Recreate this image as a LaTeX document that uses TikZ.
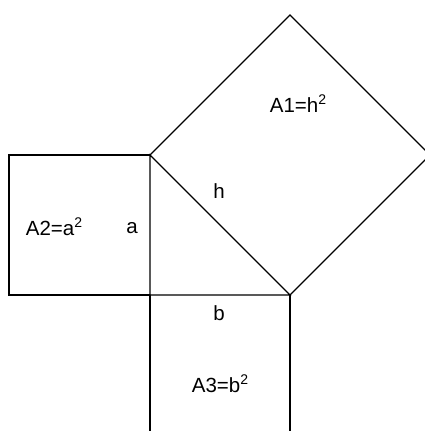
\documentclass[tikz,border=0pt]{standalone}
\usepackage{fontspec}
\setmainfont{Liberation Sans}
\usetikzlibrary{positioning}
\newcommand\sqr{\raisebox{7.5pt}{\fontsize{14}{16}\selectfont 2}}

\begin{document}
\begin{tikzpicture}[x=1pt, y=-1pt, line width=1.2pt,
    arealabel/.style={font=\fontsize{20.5}{24}\selectfont, inner sep=0pt, anchor=base},
    sidelabel/.style={font=\fontsize{20.5}{24}\selectfont, inner sep=0pt, anchor=base}]
  \clip (0,0) rectangle (425,431);
  % right triangle
  \coordinate (top) at (150,155);
  \coordinate (corner) at (150,295);
  \coordinate (right) at (290,295);
  % outer corners of the squares
  \coordinate (aleft) at (9,155);
  \coordinate (abot) at (9,295);
  \coordinate (bleft) at (150,435);
  \coordinate (bright) at (290,435);
  \coordinate (htop) at (290,15);
  \coordinate (hright) at (430,155);
  % squares on the sides
  \draw (top) -- (aleft) -- (abot) -- (corner);
  \draw (corner) -- (bleft) -- (bright) -- (right);
  \draw (top) -- (htop) -- (hright) -- (right);
  \draw (top) -- (corner) -- (right) -- cycle;
  % labels
  \node[arealabel] (areah) at (298,112) {A1=h\sqr};
  \node[arealabel] (areaa) at (54,235) {A2=a\sqr};
  \node[arealabel] (areab) at (220,392) {A3=b\sqr};
  \node[sidelabel] (sideh) at (219,198) {h};
  \node[sidelabel] (sidea) at (132,233) {a};
  \node[sidelabel] (sideb) at (219,320) {b};
\end{tikzpicture}
\end{document}
